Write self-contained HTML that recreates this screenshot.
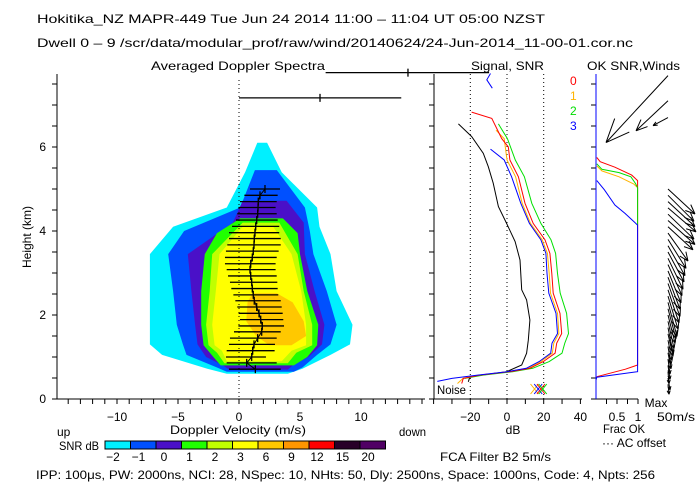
<!DOCTYPE html>
<html><head><meta charset="utf-8"><style>
html,body{margin:0;padding:0;background:#fff;}
svg{display:block;font-family:"Liberation Sans",sans-serif;}
text{font-size:12px;fill:#000;}
</style></head><body>
<svg id="chart" width="700" height="500" viewBox="0 0 700 500" xmlns="http://www.w3.org/2000/svg">
<rect x="0" y="0" width="700" height="500" fill="#fff"/>
<text x="37" y="23" font-size="13" textLength="508" lengthAdjust="spacingAndGlyphs">Hokitika_NZ   MAPR-449   Tue Jun 24 2014 11:00  –  11:04 UT 05:00 NZST</text>
<text x="37" y="47" font-size="12" textLength="596" lengthAdjust="spacingAndGlyphs">Dwell  0  –  9    /scr/data/modular_prof/raw/wind/20140624/24-Jun-2014_11-00-01.cor.nc</text>
<text x="151" y="70" textLength="174" lengthAdjust="spacingAndGlyphs">Averaged Doppler Spectra</text>
<text x="471" y="70" textLength="73" lengthAdjust="spacingAndGlyphs">Signal, SNR</text>
<text x="587" y="70" textLength="93" lengthAdjust="spacingAndGlyphs">OK SNR,Winds</text>
<g id="contours"></g>
<g id="axes"></g>
<g id="marks"></g>
<text transform="translate(31,237) rotate(-90)" text-anchor="middle" font-size="12">Height (km)</text>
<text x="238" y="434" text-anchor="middle" textLength="136" lengthAdjust="spacingAndGlyphs">Doppler Velocity (m/s)</text>
<text x="57" y="436">up</text>
<text x="399" y="436" textLength="27" lengthAdjust="spacingAndGlyphs">down</text>
<text x="513" y="434" text-anchor="middle">dB</text>
<text x="603" y="433" textLength="42" lengthAdjust="spacingAndGlyphs">Frac OK</text>
<text x="602" y="447" textLength="64" lengthAdjust="spacingAndGlyphs">··· AC offset</text>
<text x="59" y="450" textLength="40" lengthAdjust="spacingAndGlyphs">SNR dB</text>
<text x="440" y="461" textLength="111" lengthAdjust="spacingAndGlyphs">FCA Filter B2   5m/s</text>
<text x="437" y="394" textLength="29" lengthAdjust="spacingAndGlyphs">Noise</text>
<text x="656" y="407" text-anchor="middle">Max</text>
<text x="657" y="421" textLength="38" lengthAdjust="spacingAndGlyphs">50m/s</text>
<text x="570" y="85" fill="#ff0000" style="fill:#ff0000">0</text>
<text x="570" y="100" style="fill:#ffb400">1</text>
<text x="570" y="115" style="fill:#00dd00">2</text>
<text x="570" y="130" style="fill:#0000ff">3</text>
<text x="36" y="479" textLength="619" lengthAdjust="spacingAndGlyphs">IPP: 100μs,  PW: 2000ns,  NCI:  28,  NSpec: 10, NHts: 50,  Dly: 2500ns,  Space: 1000ns,  Code: 4,  Npts: 256</text>
<g id="colorbar"></g>
</svg>
<script>
// ---------- data ----------
const levelNames = ["-2","-1","0","1","2","3","6"];
const levelColors = ["#00f0ff","#0050ff","#4a10c8","#20ff00","#c0ff00","#ffff00","#ffc800"];
const cyanH = [0.6,0.72,1.05,1.3,1.77,2.57,3.45,4.1,4.56,5.4,6.1];
const cyanL = [-1,-2.6,-6.3,-7.3,-7.3,-7.3,-7.3,-5.4,-1,0.5,1.5];
const cyanR = [4,5.2,7.5,9.1,9.3,8,7.5,6.6,6.4,3.5,2.3];
const blueH = [0.65,0.75,1.05,1.3,1.77,2.57,3.45,4.0,4.56,5.45];
const blueL = [-1,-1.8,-4.3,-4.6,-5.1,-5.4,-5.8,-4.5,0.1,1.3];
const blueR = [4.5,5.2,6.4,7.5,8,7.2,6.1,5.8,5.4,3.1];
const purpH = [0.7,0.8,1.0,1.3,1.77,2.57,3.45,4.2,4.72];
const purpL = [-0.8,-1.3,-2.7,-3.4,-3.6,-3.9,-4.2,-0.5,0.3];
const purpR = [4,4.4,5.7,6.8,7,6.2,5.4,5.3,3.9];
const grnH = [0.8,1.0,1.28,1.77,2.57,3.45,3.95,4.3];
const grnL = [-1.5,-2.1,-2.9,-3.1,-3.1,-2.8,-1.8,0.1];
const grnR = [4.5,5.6,6.4,6.5,5.6,5,4.8,3.6];
const ygH = [0.85,1.1,1.28,1.77,2.57,3.45,4.2];
const ygL = [-1.2,-1.8,-2.5,-2.7,-2.4,-2.2,0.3];
const ygR = [4,4.7,6,6,5.3,4.8,3.3];
const yelH = [0.9,1.15,1.28,1.77,2.57,3.45,4.1];
const yelL = [-1,-1.4,-2,-2.2,-1.9,-1.6,0.3];
const yelR = [3.5,4.3,5.5,5.5,5.1,4.3,2.8];
const orgH = [1.28,1.5,1.85,2.3,2.52];
const orgL = [2.5,1.4,0.6,0.7,1.1];
const orgR = [4.3,5.5,5.3,4.4,3.1];

const specH = [5.0,4.85,4.70,4.56,4.41,4.26,4.11,3.96,3.82,3.67,3.52,3.37,3.22,3.08,2.93,2.78,2.63,2.48,2.34,2.19,2.04,1.89,1.74,1.60,1.45,1.30,1.15,1.00,0.86,0.71,7.17,7.77];
const specMean = [2.13,1.72,1.58,1.56,1.53,1.45,1.37,1.31,1.25,1.23,1.17,1.09,0.96,0.90,0.96,1.04,1.09,1.17,1.25,1.45,1.64,1.78,1.91,1.86,1.53,1.23,1.12,1.04,0.63,1.34,6.64,13.85];
const specLo = [0.9,0.44,0.08,-0.05,-0.14,-0.25,-0.57,-0.82,-0.82,-0.96,-1.07,-1.15,-1.15,-1.01,-0.9,-0.74,-0.63,-0.46,-0.3,-0.14,-0.03,0.08,-0.05,-0.41,-0.74,-0.82,-1.01,-1.07,-1.01,-0.82,0,7.1];
const specHi = [3.36,3.17,3.09,3.0,3.09,3.17,3.3,3.3,3.42,3.42,3.25,3.09,3.0,3.0,3.09,3.14,3.17,3.22,3.42,3.5,3.58,3.63,3.69,3.42,3.09,2.95,2.92,2.21,3.09,3.42,13.3,20.5];

const sigH = [6.55,6.25,5.85,5.53,5.14,4.58,4.18,3.75,3.31,2.6,2.36,1.88,1.4,1.09,0.81,0.65,0.53,0.41];
const sigDb = [-26.5,-19.3,-12.9,-10.2,-7.5,-4.7,-0.2,4.4,7.1,8.0,10.7,12.5,11.6,10.7,8.0,-0.2,-20.2,-21.1];
const redH = [6.83,6.68,6.2,6.0,5.69,5.29,4.66,4.18,3.79,3.47,2.99,2.52,2.04,1.56,1.33,1.09,0.89,0.73,0.65,0.57,0.49,0.37];
const redDb = [-19.3,-8.3,-2.9,0.7,1.6,6.2,9.8,14.3,20.7,23.4,24.4,25.2,28.9,29.8,27.1,26.2,19.8,12.5,1.6,-14.7,-23.8,-24.7];
const orH = [6.4,6.2,5.69,5.29,4.66,4.18,3.79,3.47,2.99,2.52,2.04,1.56,1.33,1.09,0.89,0.73,0.65,0.57,0.49,0.37];
const orDb = [-6,-1.5,0,4.7,8.3,12.8,19.2,22,23,23.7,27.5,28.3,25.5,24.7,18.5,11.5,0.5,-15,-24,-27];
const grH = [6.55,6.2,5.69,5.29,4.66,4.18,3.79,3.47,2.99,2.52,2.04,1.56,1.33,1.09,0.89,0.73,0.65,0.57,0.49];
const grDb = [-4.7,0.2,4.5,9.5,13.5,18.5,24,26.5,27.5,29,32.5,33.5,31.5,30,23,14,3,-13,-23];
const blH = [5.95,5.69,5.29,4.66,4.18,3.79,3.47,2.99,2.52,2.04,1.56,1.33,1.09,0.89,0.73,0.65,0.57,0.49,0.42];
const blDb = [-9,-1.5,2.5,7.5,12.2,18.5,21.2,21.8,22.8,26.7,27.5,24.5,23.8,17.5,10.5,0,-16,-30,-38];
const blTopH = [7.75,7.6,7.4];
const blTopDb = [-9,-11,-8];

const fracRedH = [5.75,5.65,5.52,5.33,5.2,5.03,0.81,0.71,0.53];
const fracRed = [0.02,0.1,0.45,0.85,0.99,0.99,0.99,0.7,0.02];
const fracGrnH = [5.6,5.47,5.39,5.29,5.13,5.03,4.14];
const fracGrn = [0.02,0.14,0.55,0.83,0.94,0.99,0.99];
const fracOrH = [5.55,5.43,5.29,5.12,5.03];
const fracOr = [0.02,0.14,0.55,0.9,0.99];
const fracBlH = [5.2,4.98,4.62,4.42,4.14,0.65,0.52,0.45];
const fracBl = [0.02,0.2,0.45,0.69,0.99,0.99,0.02,0];

const windH = [7.7,7.1,6.7,5.0,4.85,4.7,4.55,4.4,4.25,4.1,3.95,3.8,3.65,3.5,3.35,3.2,3.05,2.9,2.75,2.6,2.45,2.3,2.15,2.0,1.85,1.7,1.55,1.4,1.25,1.1,0.95,0.8,0.65,0.5,0.35];
const windU = [-62,-32,-15,27,26,27,28,26,27,25,20,18,17,16,15,14,13,12,12,11,10,9,8,7,6,5,5,4,3,3,2,2,1,2,1];
const windV = [67,30,8,25,26,25,24,25,24,23,28,29,30,30,31,31,32,32,33,33,33,34,30,28,27,25,22,20,18,16,15,14,12,12,10];

const cbLabels = ["-2","-1","0","1","2","3","6","9","12","15","20"];
const cbColors = ["#00f0ff","#0050ff","#4a10c8","#20ff00","#c0ff00","#ffff00","#ffc800","#ff9600","#ff0000","#280028","#500064"];

// ---------- scales ----------
const NS = "http://www.w3.org/2000/svg";
const yH = h => 399 - 42 * h;
const xV = v => 239 + 12.2 * v;
const xDb = d => 507 + 1.835 * d;
const xF = f => 596 + 42 * f;
function mk(tag, attrs, parent) {
  const e = document.createElementNS(NS, tag);
  for (const k in attrs) e.setAttribute(k, attrs[k]);
  parent.appendChild(e);
  return e;
}
const gC = document.getElementById('contours');
const gA = document.getElementById('axes');
const gM = document.getElementById('marks');

// ---------- contours ----------
const levels = [[cyanH,cyanL,cyanR],[blueH,blueL,blueR],[purpH,purpL,purpR],[grnH,grnL,grnR],[ygH,ygL,ygR],[yelH,yelL,yelR],[orgH,orgL,orgR]];
levels.forEach((lv, i) => {
  const [H, L, R] = lv;
  const pts = [];
  for (let j = 0; j < H.length; j++) pts.push(xV(L[j]).toFixed(1) + ',' + yH(H[j]).toFixed(1));
  for (let j = H.length - 1; j >= 0; j--) pts.push(xV(R[j]).toFixed(1) + ',' + yH(H[j]).toFixed(1));
  const p = mk('polygon', {points: pts.join(' '), fill: levelColors[i], stroke: 'none'}, gC);
  
  
});

// ---------- axes ----------
function line(x1,y1,x2,y2,name,extra) {
  const a = Object.assign({x1,y1,x2,y2,stroke:'#000','stroke-width':1}, extra||{});
  const l = mk('line', a, gA);
  
  
  return l;
}
function txt(x,y,s,name,anchor) {
  const t = mk('text', {x, y, 'text-anchor': anchor || 'middle'}, gA);
  t.textContent = s;
  
  
}
// left panel
line(57,74,57,399,'spectra-y-axis');
line(57,399,425,399,'spectra-x-axis');
for (let h = 0; h <= 7.5; h += 0.5) line(52, yH(h), 57, yH(h), 'spectra-y-tick');
[0,2,4,6].forEach(h => txt(46, yH(h) + 4, String(h), 'spectra-y-label', 'end'));
for (let v = -14; v <= 15; v++) line(xV(v), 399, xV(v), 404, 'spectra-x-tick');
[-10,-5,0,5,10].forEach(v => txt(xV(v), 421, v < 0 ? '−' + (-v) : String(v), 'spectra-x-label'));
line(xV(0), 80, xV(0), 399, 'zero-velocity-line', {'stroke-dasharray':'1,3'});
// middle panel
line(434,74,434,399,'signal-y-axis');
line(434,399,582,399,'signal-x-axis');
for (let h = 0; h <= 7.5; h += 0.5) line(429, yH(h), 434, yH(h), 'signal-y-tick');
for (let d = -40; d <= 40; d += 10) line(xDb(d), 399, xDb(d), 404, 'signal-x-tick');
[-20,0,20,40].forEach(d => txt(xDb(d), 421, d < 0 ? '−' + (-d) : String(d), 'signal-x-label'));
[-20,0,20].forEach(d => line(xDb(d), 74, xDb(d), 399, 'signal-grid-line', {'stroke-dasharray':'1,3'}));
// right panel
line(594,399,638,399,'frac-x-axis');
for (let f = 0.25; f <= 1.0; f += 0.25) line(xF(f), 399, xF(f), 404, 'frac-x-tick');
txt(xF(0.5), 421, '0.5', 'frac-x-label');
txt(xF(1), 421, '1', 'frac-x-label');
for (let h = 0; h <= 7.5; h += 0.5) line(591, yH(h), 596, yH(h), 'frac-y-tick');
line(596,74,596,399,'frac-y-axis',{stroke:'#0000ff'});

// ---------- spectral width bars ----------
const meanPts = [];
for (let i = 0; i < specH.length; i++) {
  const y = yH(specH[i]);
  const b = mk('line', {x1: xV(specLo[i]), y1: y, x2: xV(specHi[i]), y2: y, stroke: '#000', 'stroke-width': 1.3}, gM);
  
  
  const t = mk('line', {x1: xV(specMean[i]), y1: y - 4, x2: xV(specMean[i]), y2: y + 4, stroke: '#000', 'stroke-width': 1.3}, gM);
  
  
  if (i < 30) meanPts.push(xV(specMean[i]).toFixed(1) + ',' + y.toFixed(1));
}
const mp = mk('polyline', {points: meanPts.join(' '), fill: 'none', stroke: '#000', 'stroke-width': 1}, gM);



// ---------- signal / SNR profiles ----------
function prof(H, X, sx, color, name) {
  const pts = H.map((h, i) => sx(X[i]).toFixed(1) + ',' + yH(h).toFixed(1)).join(' ');
  const p = mk('polyline', {points: pts, fill: 'none', stroke: color, 'stroke-width': 1}, gM);
  
  
}
prof(sigH, sigDb, xDb, '#000', 'signal-profile');
prof(orH, orDb, xDb, '#ffb400', 'snr-beam-1');
prof(grH, grDb, xDb, '#00e000', 'snr-beam-2');
prof(redH, redDb, xDb, '#ff0000', 'snr-beam-0');
prof(blH, blDb, xDb, '#0000ff', 'snr-beam-3');
prof(blTopH, blTopDb, xDb, '#0000ff', 'snr-beam-3-top');
// noise crosses
const noiseDb = [15, 17, 18.5, 19.5];
const noiseCol = ['#ffb400', '#0000ff', '#ff0000', '#00e000'];
noiseDb.forEach((d, i) => {
  const cx = xDb(d), cy = 389;
  const c = mk('path', {d: `M${cx-4},${cy-5}L${cx+4},${cy+5}M${cx+4},${cy-5}L${cx-4},${cy+5}`, stroke: noiseCol[i], fill: 'none'}, gM);
  
  
});

// ---------- fraction OK ----------
prof(fracOrH, fracOr, xF, '#ffb400', 'frac-ok-beam-1');
prof(fracRedH, fracRed, xF, '#ff0000', 'frac-ok-beam-0');
prof(fracGrnH, fracGrn, xF, '#00e000', 'frac-ok-beam-2');
prof(fracBlH, fracBl, xF, '#0000ff', 'frac-ok-beam-3');

// ---------- wind vectors ----------
const wx0 = 668;
for (let i = 0; i < windH.length; i++) {
  const x1 = wx0, y1 = yH(windH[i]);
  const x2 = x1 + windU[i], y2 = y1 + windV[i];
  const len = Math.hypot(windU[i], windV[i]);
  const hl = Math.max(4, len * 0.28);
  const ang = Math.atan2(windV[i], windU[i]);
  const a1 = ang + Math.PI - 0.4, a2 = ang + Math.PI + 0.4;
  const d = `M${x1},${y1}L${x2},${y2}M${x2},${y2}L${x2 + hl*Math.cos(a1)},${y2 + hl*Math.sin(a1)}M${x2},${y2}L${x2 + hl*Math.cos(a2)},${y2 + hl*Math.sin(a2)}`;
  const w = mk('path', {d, stroke: '#000', fill: 'none', 'stroke-width': 1}, gM);
  
  
}

// ---------- colorbar ----------
const gB = document.getElementById('colorbar');
const cbX0 = 105, cbW = 25.5;
cbColors.forEach((c, i) => {
  const r = mk('rect', {x: cbX0 + i*cbW, y: 441, width: cbW, height: 8, fill: c, stroke: '#000', 'stroke-width': 1}, gB);
  
  
  const t = mk('text', {x: cbX0 + i*cbW + 8, y: 461, 'text-anchor': 'middle'}, gB);
  t.textContent = cbLabels[i].replace('-', '−');
  
  
});
</script>
</body></html>
